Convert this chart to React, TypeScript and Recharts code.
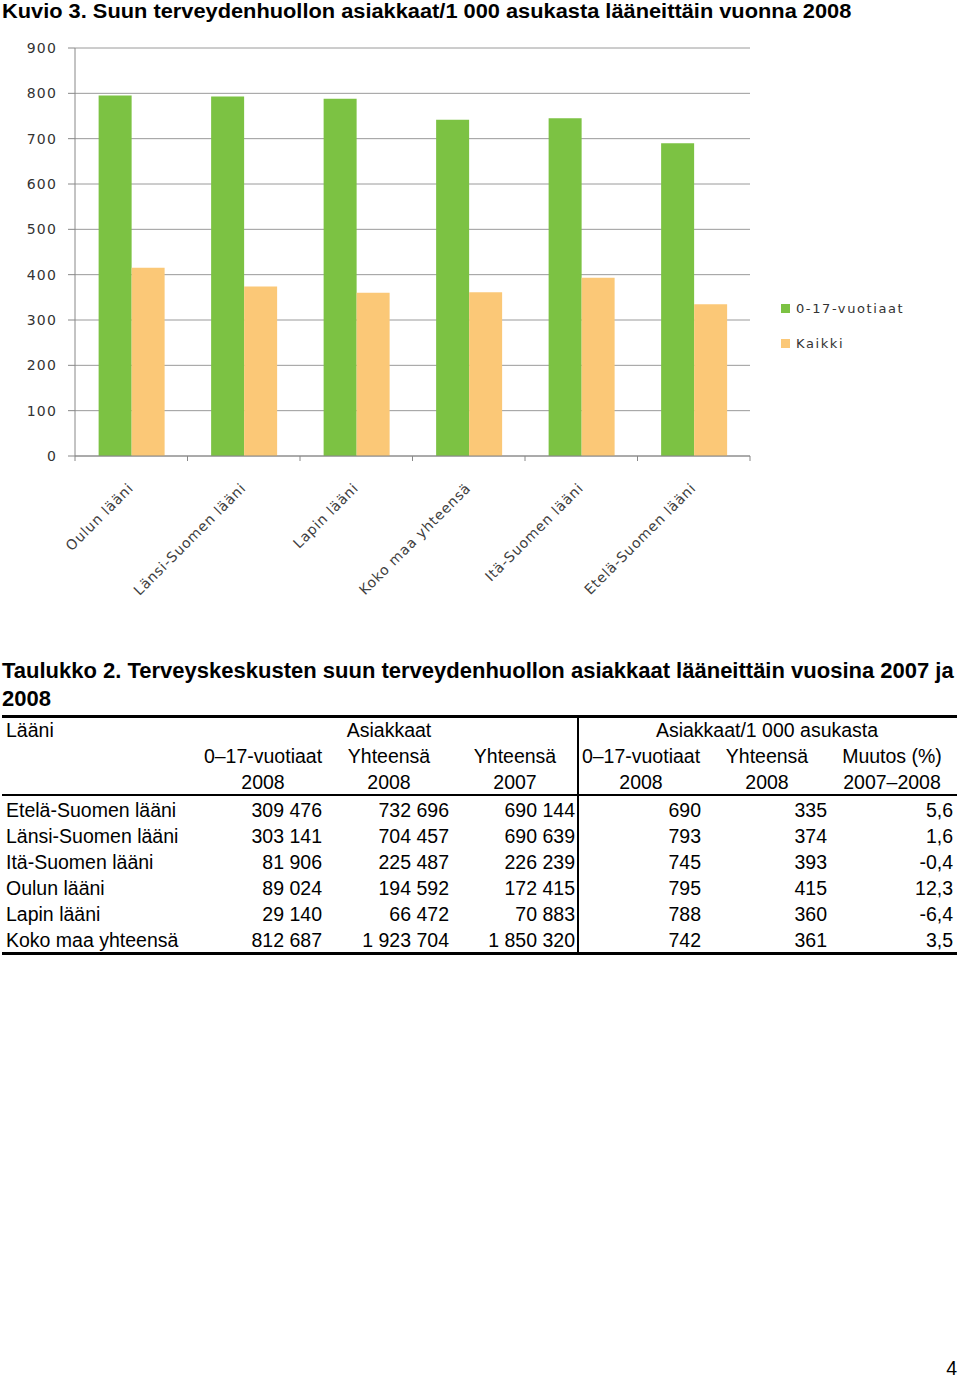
import React from 'react';
import { BarChart, Bar, XAxis, YAxis, CartesianGrid, Legend } from 'recharts';

const categories = ['Oulun lääni', 'Länsi-Suomen lääni', 'Lapin lääni', 'Koko maa yhteensä', 'Itä-Suomen lääni', 'Etelä-Suomen lääni'];
const youth = [795, 793, 788, 742, 745, 690];
const allClients = [415, 374, 360, 361, 393, 335];
const yTicks = [0, 100, 200, 300, 400, 500, 600, 700, 800, 900];
const seriesNames = ['0-17-vuotiaat', 'Kaikki'];
const seriesColors = ['#7CC243', '#FBC877'];

const regions = ['Etelä-Suomen lääni', 'Länsi-Suomen lääni', 'Itä-Suomen lääni', 'Oulun lääni', 'Lapin lääni', 'Koko maa yhteensä'];
const clients017 = ['309 476', '303 141', '81 906', '89 024', '29 140', '812 687'];
const clientsTotal2008 = ['732 696', '704 457', '225 487', '194 592', '66 472', '1 923 704'];
const clientsTotal2007 = ['690 144', '690 639', '226 239', '172 415', '70 883', '1 850 320'];
const per1000_017 = ['690', '793', '745', '795', '788', '742'];
const per1000Total = ['335', '374', '393', '415', '360', '361'];
const changePct = ['5,6', '1,6', '-0,4', '12,3', '-6,4', '3,5'];
const headRow2 = ['0–17-vuotiaat', 'Yhteensä', 'Yhteensä', '0–17-vuotiaat', 'Yhteensä', 'Muutos (%)'];
const headRow3 = ['2008', '2008', '2007', '2008', '2008', '2007–2008'];

const data = categories.map((c, i) => ({ name: c, youth: youth[i], all: allClients[i] }));

const PLOT_LEFT = 75;
const PLOT_RIGHT = 750;
const BAND = (PLOT_RIGHT - PLOT_LEFT) / categories.length;

const XTick = (props: any) => {
  const { x, y, payload, index } = props;
  const axisY = y - 5;
  return (
    <g>
      <line x1={x - BAND / 2} x2={x - BAND / 2} y1={axisY} y2={axisY + 5} stroke="#888" />
      {index === categories.length - 1 && (
        <line x1={x + BAND / 2} x2={x + BAND / 2} y1={axisY} y2={axisY + 5} stroke="#888" />
      )}
      <text
        x={x + 3}
        y={axisY + 33}
        textAnchor="end"
        transform={`rotate(-45, ${x + 3}, ${axisY + 33})`}
        fontFamily="DejaVu Sans"
        fontSize={14}
        letterSpacing={0.8}
        fill="#404040"
      >
        {payload.value}
      </text>
    </g>
  );
};

const LegendContent = () => (
  <div style={{ fontFamily: 'DejaVu Sans', fontSize: 13, color: '#333', letterSpacing: 1.6 }}>
    {seriesNames.map((n, i) => (
      <div key={n} style={{ display: 'flex', alignItems: 'center', height: 20, marginBottom: 15 }}>
        <div style={{ width: 9, height: 9, background: seriesColors[i], marginRight: 6 }} />
        <span>{n}</span>
      </div>
    ))}
  </div>
);

const colRight = [322, 449, 575, 701, 827, 953];
const colCenter = [263, 389, 515, 641, 767, 892];
const dataCols = [clients017, clientsTotal2008, clientsTotal2007, per1000_017, per1000Total, changePct];

const ROW_H = 26;
const TABLE_TOP = 717;
const DATA_TOP = 797;

const cellBase: React.CSSProperties = { position: 'absolute', height: ROW_H, lineHeight: `${ROW_H}px`, whiteSpace: 'nowrap' };

export default function App() {
  return (
    <div style={{ position: 'absolute', left: 0, top: 0, width: 960, height: 1379, background: '#fff', overflow: 'hidden', fontFamily: '"Liberation Sans", Arial, sans-serif', color: '#000' }}>
      <div style={{ position: 'absolute', left: 2, top: 0, fontSize: 20, fontWeight: 'bold', lineHeight: '22px', whiteSpace: 'nowrap', transform: 'scaleX(1.09)', transformOrigin: 'left top' }}>
        Kuvio 3. Suun terveydenhuollon asiakkaat/1 000 asukasta lääneittäin vuonna 2008
      </div>
      <div style={{ position: 'absolute', left: 0, top: 0 }}>
        <BarChart width={960} height={620} data={data} margin={{ top: 48, right: 210, bottom: 0, left: 0 }} barCategoryGap="21%" barGap={0}>
          <CartesianGrid vertical={false} stroke="#9a9a9a" />
          <XAxis dataKey="name" height={164} tickLine={false} tickSize={5} tickMargin={0} axisLine={{ stroke: '#888' }} interval={0} tick={<XTick />} />
          <YAxis width={75} domain={[0, 900]} ticks={yTicks} interval={0} tickSize={7} tickMargin={11} axisLine={{ stroke: '#888' }} tickLine={{ stroke: '#888' }} tick={{ fontFamily: 'DejaVu Sans', fontSize: 14, fill: '#333', letterSpacing: 1.2 }} />
          <Legend layout="vertical" align="center" verticalAlign="middle" wrapperStyle={{ left: 781, top: 298, width: 175 }} content={<LegendContent />} />
          <Bar dataKey="youth" name={seriesNames[0]} fill={seriesColors[0]} isAnimationActive={false} />
          <Bar dataKey="all" name={seriesNames[1]} fill={seriesColors[1]} isAnimationActive={false} />
        </BarChart>
      </div>

      <div style={{ position: 'absolute', left: 2, top: 657, width: 958, fontSize: 22, fontWeight: 'bold', lineHeight: '28px' }}>
        Taulukko 2. Terveyskeskusten suun terveydenhuollon asiakkaat lääneittäin vuosina 2007 ja 2008
      </div>

      <div style={{ position: 'absolute', left: 2, top: 715, width: 955 }}>
        <div style={{ position: 'absolute', left: 0, top: 0, width: 955, height: 3, background: '#000' }} />
        <div style={{ position: 'absolute', left: 0, top: 79, width: 955, height: 2, background: '#000' }} />
        <div style={{ position: 'absolute', left: 0, top: 237, width: 955, height: 3, background: '#000' }} />
        <div style={{ position: 'absolute', left: 575, top: 0, width: 2, height: 240, background: '#000' }} />
      </div>

      <div style={{ fontSize: 19.5 }}>
        <div style={{ ...cellBase, left: 6, top: TABLE_TOP }}>Lääni</div>
        <div style={{ ...cellBase, left: 289, width: 200, textAlign: 'center', top: TABLE_TOP }}>Asiakkaat</div>
        <div style={{ ...cellBase, left: 617, width: 300, textAlign: 'center', top: TABLE_TOP }}>Asiakkaat/1 000 asukasta</div>
        {headRow2.map((t, i) => (
          <div key={'h2' + i} style={{ ...cellBase, left: colCenter[i] - 70, width: 140, textAlign: 'center', top: TABLE_TOP + ROW_H }}>{t}</div>
        ))}
        {headRow3.map((t, i) => (
          <div key={'h3' + i} style={{ ...cellBase, left: colCenter[i] - 70, width: 140, textAlign: 'center', top: TABLE_TOP + 2 * ROW_H }}>{t}</div>
        ))}
        {regions.map((r, ri) => (
          <React.Fragment key={r}>
            <div style={{ ...cellBase, left: 6, top: DATA_TOP + ri * ROW_H }}>{r}</div>
            {dataCols.map((col, ci) => (
              <div key={ci} style={{ ...cellBase, left: colRight[ci] - 150, width: 150, textAlign: 'right', top: DATA_TOP + ri * ROW_H }}>{col[ri]}</div>
            ))}
          </React.Fragment>
        ))}
        <div style={{ ...cellBase, left: 900, width: 57, textAlign: 'right', top: 1355 }}>4</div>
      </div>
    </div>
  );
}
